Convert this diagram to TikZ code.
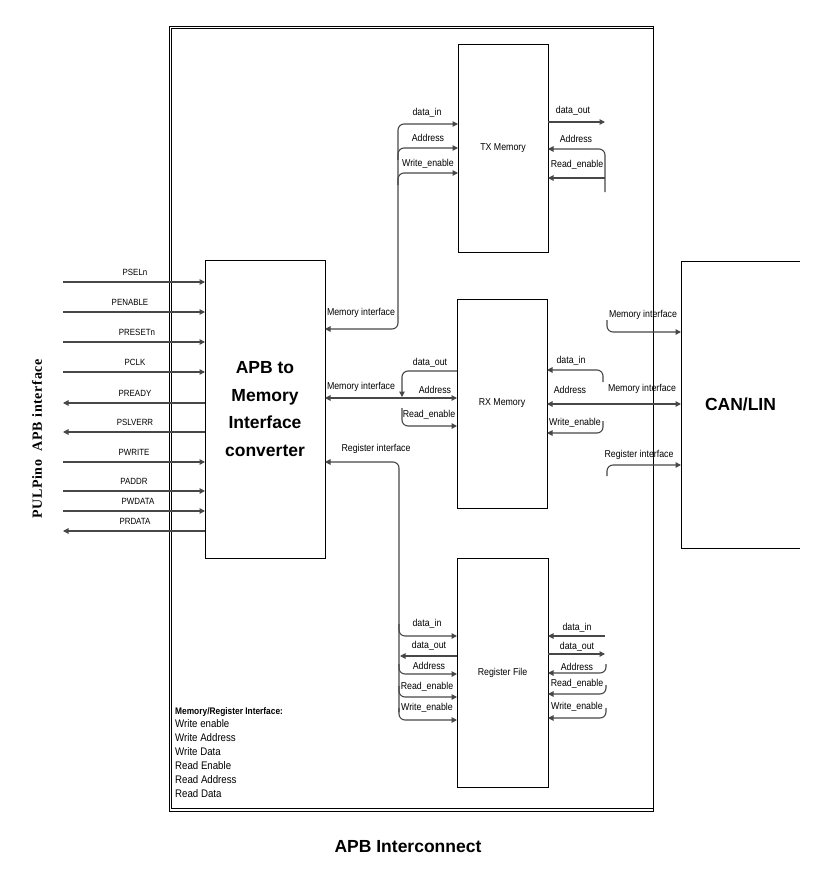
\documentclass[tikz,border=0pt]{standalone}
\usepackage{fontspec}
\setmainfont{Liberation Sans}
\newfontfamily\lab[FakeStretch=0.88]{Liberation Sans}
\newfontfamily\vser[LetterSpace=5]{Liberation Serif}
\usetikzlibrary{arrows.meta}
\begin{document}
\begin{tikzpicture}[x=1pt,y=-1pt,
  >={Triangle[length=5.5pt,width=5.5pt]},
  boxn/.style={draw=black,line width=1pt,inner sep=0pt,outer sep=0pt},
  boxline/.style={draw=black,line width=1pt},
  frameline/.style={draw=black,line width=0.8pt},
  sig/.style={draw=black!72,line width=1.1pt},
  sigin/.style={->},
  sigout/.style={<-},
  lbl/.style={font=\lab\fontsize{10}{12}\selectfont,inner sep=0pt},
  siglbl/.style={font=\lab\fontsize{9}{11}\selectfont,inner sep=0pt},
  bigt/.style={font=\bfseries\fontsize{17.5}{27.5}\selectfont,align=center},
  rc/.style={rounded corners=6pt}
]
\useasboundingbox (0,0) rectangle (828,884);

% outer frame (double line)
\node[minimum width=484pt,minimum height=785pt,inner sep=0pt,outer sep=0pt] (frame) at (411,418.5) {};
\draw[frameline] (frame.north west) rectangle (frame.south east);
\draw[frameline] ([shift={(2.6,2.6)}]frame.north west) rectangle ([shift={(0,-2.6)}]frame.south east);

% main blocks
\node[boxn,minimum width=120pt,minimum height=298pt,bigt] (apb) at (265,409) {\raisebox{-4pt}[0pt][0pt]{}APB to\\Memory\\Interface\\converter};
\node[boxn,minimum width=90pt,minimum height=208pt,lbl] (tx) at (503,148) {TX Memory};
\node[boxn,minimum width=90pt,minimum height=209pt,lbl] (rx) at (502,403.5) {RX Memory};
\node[boxn,minimum width=91pt,minimum height=229pt,lbl] (rf) at (502.5,672.5) {Register File};
\node[minimum width=119pt,minimum height=287pt,inner sep=0pt,outer sep=0pt,bigt] (can) at (740.5,404.5) {CAN/LIN};
\draw[boxline] (can.north east) -- (can.north west) -- (can.south west) -- (can.south east);

% APB side signals
\node[font=\vser\bfseries\fontsize{14}{16}\selectfont,rotate=90,inner sep=0pt] (pul) at (37,439) {PULPino\ \ APB interface};
\foreach \n/\y/\lx/\t/\d in {1/282/135/PSELn/in, 2/312/130/PENABLE/in, 3/342/137/PRESETn/in, 4/372/135/PCLK/in, 5/403/135/PREADY/out, 6/432/135/PSLVERR/out, 7/462/134/PWRITE/in, 8/491/134/PADDR/in, 9/511/138/PWDATA/in, 10/531/135/PRDATA/out}
{
  \coordinate (s\n) at (63,\y);
  \node[siglbl] (sl\n) at (\lx,\y-10) {\t};
  \draw[sig,sig\d] (s\n) -- (s\n -| apb.west);
}

% TX memory interface (left)
\draw[sig,<-,rc] (apb.east |- 0,329) -| (398,140);
\draw[sig,->,rc] (398,140) |- (tx.west |- 0,124);
\draw[sig,->,rc] (398,160) |- (tx.west |- 0,148);
\draw[sig,->,rc] (398,185) |- (tx.west |- 0,173);
\node[lbl] (txl1) at (427,113) {data\_in};
\node[lbl] (txl2) at (428,138) {Address};
\node[lbl] (txl3) at (428,164) {Write\_enable};
\node[lbl] (mi1) at (361,313) {Memory interface};

% TX right
\draw[sig,->] (tx.east |- 0,122) -- (605,122);
\draw[sig,->,rc] (605,192) |- (tx.east |- 0,149);
\draw[sig,->] (605,178) -- (tx.east |- 0,178);
\node[lbl] (txr1) at (573,111) {data\_out};
\node[lbl] (txr2) at (576,139) {Address};
\node[lbl] (txr3) at (577,165) {Read\_enable};

% RX left
\draw[sig,<->] (apb.east |- 0,398) -- (rx.west |- 0,398);
\draw[sig,->,rc] (rx.west |- 0,371) -| (402,397);
\draw[sig,->,rc] (402,408) |- (rx.west |- 0,426);
\node[lbl] (mi2) at (361,387) {Memory interface};
\node[lbl] (rxl1) at (430,363) {data\_out};
\node[lbl] (rxl2) at (435,390) {Address};
\node[lbl] (rxl3) at (429,415) {Read\_enable};

% RX right
\draw[sig,<->] (rx.east |- 0,404) -- (can.west |- 0,404);
\draw[sig,->,rc] (603,382) |- (rx.east |- 0,370);
\draw[sig,->,rc] (603,421) |- (rx.east |- 0,433);
\node[lbl] (rxr1) at (571,361) {data\_in};
\node[lbl] (rxr2) at (570,390) {Address};
\node[lbl] (rxr3) at (575,423) {Write\_enable};
\node[lbl] (mi3) at (642,389) {Memory interface};

% CAN side
\draw[sig,->,rc] (607,320) |- (can.west |- 0,332);
\draw[sig,->,rc] (607,476) |- (can.west |- 0,465);
\node[lbl] (mi4) at (643,315) {Memory interface};
\node[lbl] (ri2) at (639,455) {Register interface};

% Register interface (left)
\draw[sig,<-,rc] (apb.east |- 0,462) -| (399,712);
\node[lbl] (ri1) at (376,449) {Register interface};
\draw[sig,->,rc] (399,624) |- (rf.west |- 0,636);
\draw[sig,->] (rf.west |- 0,656) -- (400,656);
\draw[sig,->,rc] (399,664) |- (rf.west |- 0,674);
\draw[sig,->,rc] (399,686) |- (rf.west |- 0,697);
\draw[sig,->,rc] (399,708) |- (rf.west |- 0,720);
\node[lbl] (rfl1) at (427,624) {data\_in};
\node[lbl] (rfl2) at (429,646) {data\_out};
\node[lbl] (rfl3) at (429,666) {Address};
\node[lbl] (rfl4) at (427,687) {Read\_enable};
\node[lbl] (rfl5) at (427,708) {Write\_enable};

% Register file right
\draw[sig,<-] (rf.east |- 0,636) -- (605,636);
\draw[sig,->] (rf.east |- 0,654) -- (605,654);
\draw[sig,->,rc] (606,664) |- (rf.east |- 0,673);
\draw[sig,->,rc] (606,685) |- (rf.east |- 0,694);
\draw[sig,->,rc] (606,708) |- (rf.east |- 0,718);
\node[lbl] (rfr1) at (577,628) {data\_in};
\node[lbl] (rfr2) at (577,647) {data\_out};
\node[lbl] (rfr3) at (577,667) {Address};
\node[lbl] (rfr4) at (577,684) {Read\_enable};
\node[lbl] (rfr5) at (577,707) {Write\_enable};

% legend
\node[font=\lab\bfseries\fontsize{9.5}{12}\selectfont,inner sep=0pt,anchor=west] (lgh) at (175,712) {Memory/Register Interface:};
\node[font=\lab\fontsize{11}{14}\selectfont,inner sep=0pt,anchor=north west,align=left] (lgb) at (175,719) {Write enable\\Write Address\\Write Data\\Read Enable\\Read Address\\Read Data};

% title
\node[font=\bfseries\fontsize{17.5}{20}\selectfont,inner sep=0pt] (title) at (408,847) {APB Interconnect};
\end{tikzpicture}
\end{document}
